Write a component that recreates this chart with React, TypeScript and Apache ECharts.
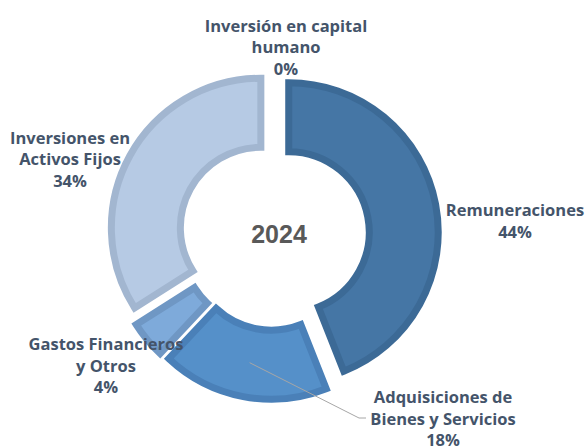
import React, { useEffect, useRef } from "react";
import * as echarts from "echarts";

const categories = [
  "Remuneraciones",
  "Adquisiciones de\nBienes y Servicios",
  "Gastos Financieros\ny Otros",
  "Inversiones en\nActivos Fijos",
  "Inversión en capital\nhumano",
];
const values = [44, 18, 4, 34, 0];
const yearLabel = "2024";

const fills = ["#4576A5", "#5590C9", "#7EAADA", "#B6CAE4", "#B6CAE4"];
const borders = ["#3C6A96", "#4A80B8", "#6F97C4", "#A2B6D0", "#A2B6D0"];
const labelPos: number[][] = [
  [515, 220.5],
  [443, 418],
  [106, 365],
  [70, 158.5],
  [286, 46.5],
];
const LEADER_INDEX = 1;
const LEADER_HALF_WIDTH = 76;

const CX = 274;
const CY = 235;
const R_IN = 80.5;
const R_OUT = 149.5;
const OFFSET = 15;
const BW = 7;
const LABEL_FONT = "bold 16.5px 'Open Sans', sans-serif";

export default function App() {
  const ref = useRef<HTMLDivElement>(null);
  useEffect(() => {
    document.body.style.margin = "0";
    const chart = echarts.init(ref.current!, null, { renderer: "svg" });
    const total = values.reduce((a, b) => a + b, 0);
    const bisector = (i: number) => {
      let cum = 0;
      for (let k = 0; k < i; k++) cum += values[k];
      return ((cum + values[i] / 2) / total) * Math.PI * 2;
    };
    const data = categories.map((name, i) => {
      const style = {
        color: fills[i],
        borderColor: borders[i],
        borderWidth: values[i] > 0 ? BW : 0,
        borderJoin: "miter" as const,
      };
      return {
        name,
        value: values[i],
        selected: true,
        itemStyle: style,
        select: { itemStyle: style },
        emphasis: { itemStyle: style },
      };
    });

    const labelTexts = categories.map((name, i) => ({
      type: "text",
      x: labelPos[i][0],
      y: labelPos[i][1],
      z: 10,
      style: {
        text: `${name}\n${values[i]}%`,
        fill: "#44546A",
        font: LABEL_FONT,
        lineHeight: 21.5,
        align: "center",
        verticalAlign: "middle",
      },
    }));

    const a = bisector(LEADER_INDEX);
    const d = (R_IN + R_OUT) / 2 + OFFSET;
    const sx = CX + d * Math.sin(a);
    const sy = CY - d * Math.cos(a);
    const [lx, ly] = labelPos[LEADER_INDEX];
    const left = lx - LEADER_HALF_WIDTH;
    const leader = {
      type: "polyline",
      z: 10,
      shape: {
        points: [
          [sx, sy],
          [left - 8, ly],
          [left - 1, ly],
        ],
      },
      style: { stroke: "#A6A6A6", lineWidth: 1, fill: "none" },
    };

    chart.setOption({
      animation: false,
      graphic: [
        {
          type: "text",
          x: 279,
          y: 234,
          style: {
            text: yearLabel,
            fill: "#595959",
            font: "bold 25px 'Liberation Sans', Arial, sans-serif",
            align: "center",
            verticalAlign: "middle",
          },
        },
        ...labelTexts,
        leader,
      ],
      series: [
        {
          type: "pie",
          center: [CX, CY],
          radius: [R_IN, R_OUT],
          startAngle: 90,
          clockwise: true,
          selectedMode: "multiple",
          selectedOffset: OFFSET,
          avoidLabelOverlap: false,
          emphasis: { disabled: true },
          label: { show: false },
          labelLine: { show: false },
          data,
        },
      ],
    });
    return () => chart.dispose();
  }, []);
  return <div ref={ref} style={{ width: 587, height: 446 }} />;
}
